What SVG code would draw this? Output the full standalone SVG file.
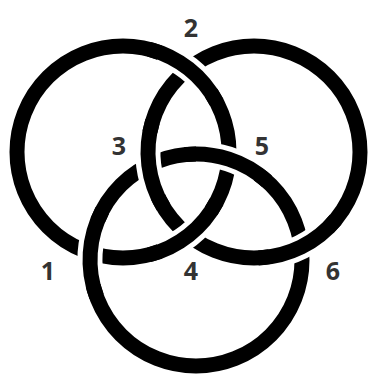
<svg xmlns="http://www.w3.org/2000/svg" width="371" height="377" viewBox="0 0 371 377">
<style>
.ring{fill:none;stroke:#000;stroke-width:15}
.gap{fill:none;stroke:#fff;stroke-width:25}
.over{fill:none;stroke:#000;stroke-width:15}
.lbl{font-family:"Open Sans","Liberation Sans",sans-serif;font-weight:bold;font-size:25px;fill:#333;text-anchor:middle}
</style>
<rect width="371" height="377" fill="#fff"/>
<g id="ringA"><circle class="ring" cx="123" cy="152" r="106"/></g>
<g id="ringB"><circle class="ring" cx="254" cy="152" r="106"/></g>
<g id="ringC"><circle class="ring" cx="196" cy="260" r="106"/></g>
<g id="gaps">
<path class="gap" d="M159.6,52.5 A106,106 0 0 1 211.1,93"/>
<path class="gap" d="M211.1,211 A106,106 0 0 1 159.6,251.5"/>
<path class="gap" d="M93.2,285.8 A106,106 0 0 1 97.7,220.5"/>
<path class="gap" d="M196,154 A106,106 0 0 1 258.3,174.2"/>
<path class="gap" d="M158,197 A106,106 0 0 1 149.9,132"/>
<path class="gap" d="M328.2,227.7 A106,106 0 0 1 269.5,256.9"/>
</g>
<g id="overs">
<path id="x2" class="over" d="M149,49.2 A106,106 0 0 1 216.8,102.6"/>
<path id="x4" class="over" d="M216.8,201.4 A106,106 0 0 1 149,254.8"/>
<path id="x1" class="over" d="M96.5,296.4 A106,106 0 0 1 102.3,210.4"/>
<path id="x5" class="over" d="M184.9,154.6 A106,106 0 0 1 266.9,181.2"/>
<path id="x3" class="over" d="M163.2,206.7 A106,106 0 0 1 152.6,121.2"/>
<path id="x6" class="over" d="M335.7,219.6 A106,106 0 0 1 258.4,257.9"/>
</g>
<g id="labels">
<text class="lbl" x="191" y="37">2</text>
<text class="lbl" x="119" y="155">3</text>
<text class="lbl" x="262" y="155">5</text>
<text class="lbl" x="48" y="280">1</text>
<text class="lbl" x="191" y="280">4</text>
<text class="lbl" x="333" y="280">6</text>
</g>
</svg>
